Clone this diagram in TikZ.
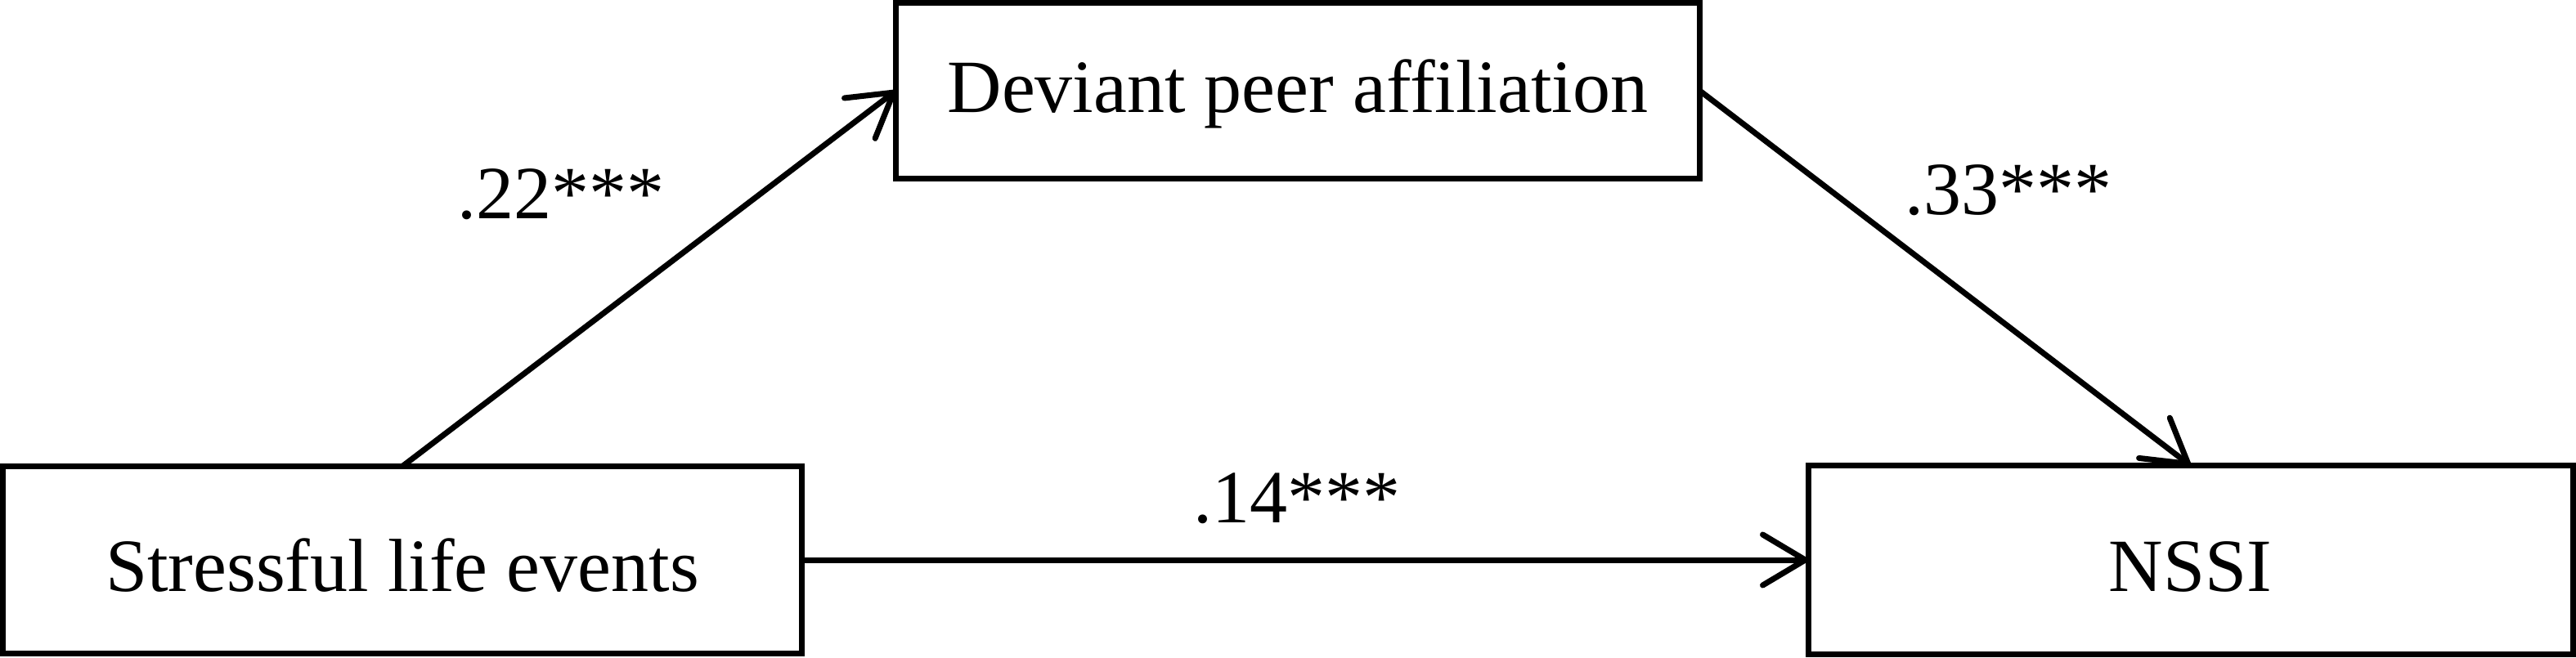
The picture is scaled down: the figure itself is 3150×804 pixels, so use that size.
\documentclass[tikz,border=0pt]{standalone}
\usepackage{fontspec}
\setmainfont{Liberation Serif}
\usetikzlibrary{arrows.meta}
\begin{document}
\begin{tikzpicture}[x=1pt,y=-1pt,
  font=\fontsize{92}{100}\selectfont,
  boxnode/.style={draw, line width=7pt, inner sep=0pt, outer sep=0pt, align=center},
  conn/.style={line width=7pt, -{Straight Barb[length=52pt,width=62pt,round]}},
  coef/.style={inner sep=0pt, anchor=base}]
\useasboundingbox (0,0) rectangle (3150,804);
\node[boxnode, minimum width=977pt, minimum height=229pt, text height=76pt, text depth=0pt] (sle) at (492,685) {Stressful life events};
\node[boxnode, minimum width=983pt, minimum height=215pt, text height=62pt, text depth=10pt] (dpa) at (1587,111) {Deviant peer affiliation};
\node[boxnode, minimum width=935pt, minimum height=231pt, text height=76pt, text depth=0pt] (nssi) at (2678.5,685) {NSSI};
\draw[conn] (sle.north) -- (dpa.west);
\draw[conn] (dpa.east) -- (nssi.north);
\draw[conn] (sle.east) -- (nssi.west);
\node[coef] (c1) at (686,267) {.22***};
\node[coef] (c2) at (2456,262) {.33***};
\node[coef] (c3) at (1586,639) {.14***};
\end{tikzpicture}
\end{document}
